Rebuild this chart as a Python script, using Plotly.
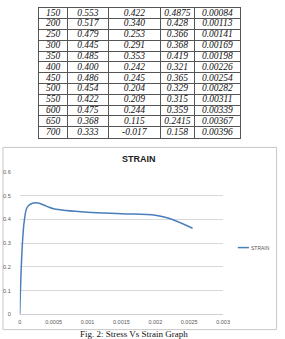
import plotly.graph_objects as go

W, H = 285, 339

# ---- table data ----
col_load = ["150", "200", "250", "300", "350", "400", "450", "500", "550", "600", "650", "700"]
col_a = ["0.553", "0.517", "0.479", "0.445", "0.485", "0.400", "0.486", "0.454", "0.422", "0.475", "0.368", "0.333"]
col_b = ["0.422", "0.340", "0.253", "0.291", "0.353", "0.242", "0.245", "0.204", "0.209", "0.244", "0.115", "-0.017"]
col_c = ["0.4875", "0.428", "0.366", "0.368", "0.419", "0.321", "0.365", "0.329", "0.315", "0.359", "0.2415", "0.158"]
col_strain = ["0.00084", "0.00113", "0.00141", "0.00169", "0.00198", "0.00226", "0.00254", "0.00282", "0.00311", "0.00339", "0.00367", "0.00396"]

# ---- curve data ----
strain = [0, 0.00007, 0.00012, 0.00024, 0.0004, 0.0005, 0.001, 0.0015, 0.002, 0.0022, 0.00255]
stress = [0, 0.40, 0.455, 0.47, 0.455, 0.445, 0.43, 0.424, 0.418, 0.405, 0.363]

x_ticks = [0, 0.0005, 0.001, 0.0015, 0.002, 0.0025, 0.003]
x_tick_text = ["0", "0.0005", "0.001", "0.0015", "0.002", "0.0025", "0.003"]
y_ticks = [0, 0.1, 0.2, 0.3, 0.4, 0.5, 0.6]
y_tick_text = ["0", "0.1", "0.2", "0.3", "0.4", "0.5", "0.6"]


def px(x):
    return x / W


def py(y):
    return 1 - y / H


# table layout: column widths (layout, not data)
col_widths = [29, 42.7, 53.3, 35.7, 46.7]
bounds = [0]
for w in col_widths:
    bounds.append(bounds[-1] + w)
centers = [(bounds[i] + bounds[i + 1]) / 2 for i in range(len(col_widths))]

cols = [col_load, col_a, col_b, col_c, col_strain]
n_rows = len(col_load)
tx, ty, tt = [], [], []
for ci, col in enumerate(cols):
    for ri, v in enumerate(col):
        tx.append(centers[ci])
        ty.append(ri)
        tt.append(v)

fig = go.Figure()
fig.add_trace(go.Scatter(
    x=tx, y=ty, text=tt, mode="text", xaxis="x2", yaxis="y2",
    textposition="middle center",
    textfont=dict(family="Liberation Serif", size=9.5, color="#111", style="italic"),
    showlegend=False, hoverinfo="skip",
))

fig.add_trace(go.Scatter(
    x=strain, y=stress, mode="lines", name="STRAIN",
    line=dict(color="#4a7ebb", width=1.5, shape="spline", smoothing=1.0),
    showlegend=False, hoverinfo="skip",
))

tick_font = dict(family="Liberation Sans", size=5.5, color="#595959")
grid_col = "#555"
fig.update_layout(
    width=W, height=H, margin=dict(l=0, r=0, t=0, b=0),
    paper_bgcolor="white", plot_bgcolor="white",
    xaxis=dict(domain=[px(18.3), px(228.3)], range=[0, 0.003],
               tickvals=x_ticks, ticktext=x_tick_text, showgrid=False,
               zeroline=False, showline=True, linecolor="#d0d0d0", linewidth=1,
               ticks="", tickfont=tick_font, ticklabelstandoff=2),
    yaxis=dict(domain=[py(317), py(172)], range=[0, 0.6],
               tickvals=y_ticks, ticktext=y_tick_text, showgrid=True,
               gridcolor="#d9d9d9", gridwidth=1, zeroline=False, showline=False,
               ticks="", tickfont=tick_font, ticklabelstandoff=8),
    xaxis2=dict(domain=[px(38.3), px(245.7)], range=[bounds[0], bounds[-1]],
                anchor="y2", tickvals=bounds, showticklabels=False, ticks="",
                showgrid=True, gridcolor=grid_col, gridwidth=1, zeroline=False,
                showline=True, mirror=True, linecolor=grid_col, linewidth=1, fixedrange=True),
    yaxis2=dict(domain=[py(137), py(5)], range=[n_rows - 0.5, -0.5],
                anchor="x2", tickvals=[r - 0.5 for r in range(n_rows + 1)],
                showticklabels=False, ticks="", showgrid=True, gridcolor=grid_col,
                gridwidth=1, zeroline=False, showline=True, mirror=True,
                linecolor=grid_col, linewidth=1, fixedrange=True),
    shapes=[
        dict(type="rect", xref="paper", yref="paper",
             x0=px(1), x1=px(283.5), y0=py(332.5), y1=py(147),
             line=dict(color="#c8c8c8", width=1), fillcolor="rgba(0,0,0,0)", layer="below"),
        dict(type="line", xref="paper", yref="paper",
             x0=px(243.5), x1=px(255), y0=py(249), y1=py(249),
             line=dict(color="#4a7ebb", width=1.5)),
    ],
    annotations=[
        dict(text="<b>STRAIN</b>", xref="paper", yref="paper", x=px(141.7), y=py(159),
             xanchor="center", yanchor="middle", showarrow=False,
             font=dict(family="Liberation Sans", size=9, color="#222")),
        dict(text="STRAIN", xref="paper", yref="paper", x=px(255.5), y=py(249),
             xanchor="left", yanchor="middle", showarrow=False,
             font=dict(family="Liberation Sans", size=5, color="#595959")),
        dict(text="Fig. 2: Stress Vs Strain Graph", xref="paper", yref="paper",
             x=px(136), y=py(336.5), xanchor="center", yanchor="middle", showarrow=False,
             font=dict(family="Liberation Serif", size=9, color="#111")),
    ],
)

fig.write_html("out.html")
